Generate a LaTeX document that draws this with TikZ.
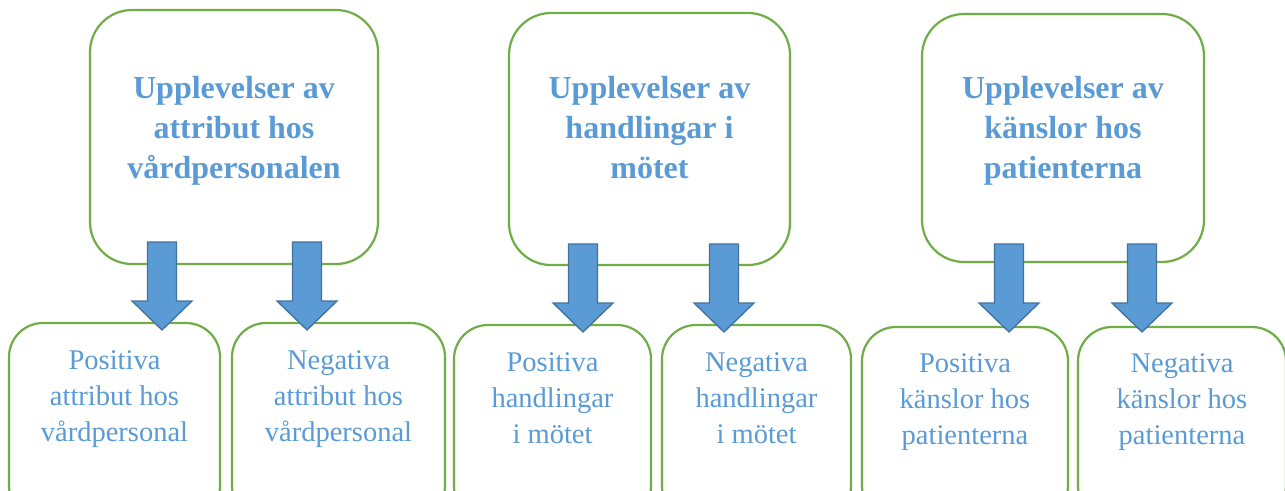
\documentclass[tikz,border=0pt]{standalone}
\usepackage{fontspec}
\setmainfont{Liberation Serif}
\definecolor{bgreen}{HTML}{70AD47}
\definecolor{tblue}{HTML}{5B9BD5}
\definecolor{ablue}{HTML}{41719C}
\newcommand\blockarr[3]{% x, ytop, ytip
  \draw[barrow] (#1-14.5,#2) -- (#1+14.5,#2) -- (#1+14.5,#3-29) -- (#1+30,#3-29)
    -- (#1,#3) -- (#1-30,#3-29) -- (#1-14.5,#3-29) -- cycle;}
\begin{document}
\begin{tikzpicture}[x=1pt,y=-1pt,
  topbox/.style={draw=bgreen, line width=2.2pt, rounded corners=42pt, fill=white, inner sep=0pt},
  botbox/.style={draw=bgreen, line width=2.2pt, rounded corners=34pt, fill=white, inner sep=0pt},
  toptext/.style={text=tblue, font=\bfseries\fontsize{32}{40}\selectfont, align=center, inner sep=0pt, anchor=north},
  bottext/.style={text=tblue, font=\fontsize{28.5}{36}\selectfont, align=center, inner sep=0pt, anchor=north},
  barrow/.style={fill=tblue, draw=ablue, line width=1.3pt, line join=miter}]
\useasboundingbox (0,0) rectangle (1285,490);
\begin{scope}
\clip (0,0) rectangle (1285,490);
% top boxes
\node[topbox, minimum width=288pt, minimum height=254pt] (T1) at (234,137) {};
\node[topbox, minimum width=281pt, minimum height=252pt] (T2) at (649.5,139) {};
\node[topbox, minimum width=282pt, minimum height=248pt] (T3) at (1063,138) {};
% bottom boxes
\node[botbox, minimum width=211pt, minimum height=197pt] (B1) at (114.5,421.5) {};
\node[botbox, minimum width=213pt, minimum height=197pt] (B2) at (338.5,421.5) {};
\node[botbox, minimum width=197pt, minimum height=195pt] (B3) at (552.5,422.5) {};
\node[botbox, minimum width=189pt, minimum height=195pt] (B4) at (756.5,422.5) {};
\node[botbox, minimum width=206pt, minimum height=193pt] (B5) at (965,423.5) {};
\node[botbox, minimum width=208pt, minimum height=193pt] (B6) at (1182,423.5) {};
\end{scope}
% arrows
\blockarr{162}{242}{330}
\blockarr{307}{242}{330}
\blockarr{583}{244}{332}
\blockarr{724}{244}{332}
\blockarr{1009}{244}{332}
\blockarr{1142}{244}{332}
% texts
\node[toptext] (t1) at (T1 |- 0,76) {Upplevelser av\\attribut hos\\vårdpersonalen};
\node[toptext] (t2) at (T2 |- 0,76) {Upplevelser av\\handlingar i\\mötet};
\node[toptext] (t3) at (T3 |- 0,76) {Upplevelser av\\känslor hos\\patienterna};
\node[bottext] (s1) at (B1 |- 0,350) {Positiva\\attribut hos\\vårdpersonal};
\node[bottext] (s2) at (B2 |- 0,350) {Negativa\\attribut hos\\vårdpersonal};
\node[bottext] (s3) at (B3 |- 0,352.5) {Positiva\\handlingar\\i mötet};
\node[bottext] (s4) at (B4 |- 0,352.5) {Negativa\\handlingar\\i mötet};
\node[bottext] (s5) at (B5 |- 0,353) {Positiva\\känslor hos\\patienterna};
\node[bottext] (s6) at (B6 |- 0,353) {Negativa\\känslor hos\\patienterna};
\end{tikzpicture}
\end{document}
